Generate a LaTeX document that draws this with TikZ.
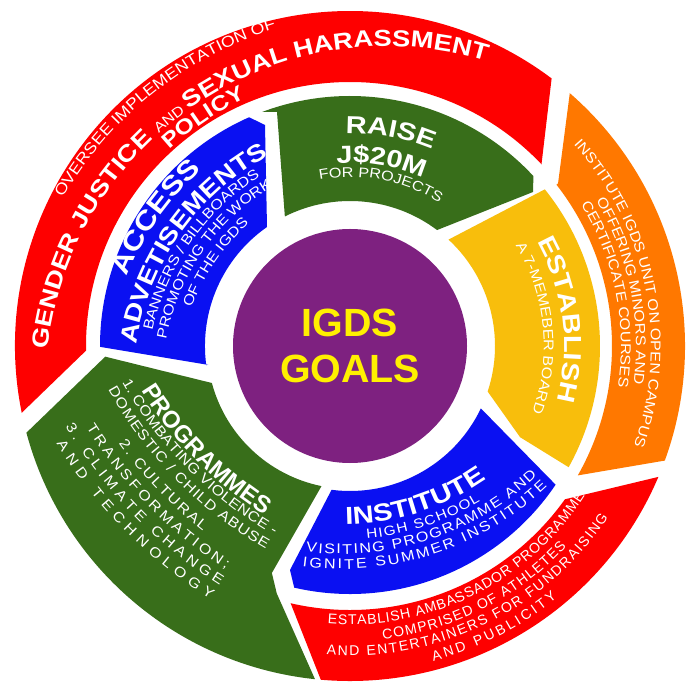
\documentclass[tikz,border=0pt]{standalone}
\usepackage{fontspec}
\usetikzlibrary{decorations.text}
\newfontfamily\plainfont{Liberation Sans}
\newfontfamily\ringfont[FakeStretch=1.15]{Liberation Sans}
\newfontfamily\bigfont[FakeStretch=1.18]{Liberation Sans}
\definecolor{segred}{HTML}{FE0000}
\definecolor{segblue}{HTML}{0A10F2}
\definecolor{seggreen}{HTML}{386E1A}
\definecolor{segorange}{HTML}{FF7800}
\definecolor{segyellow}{HTML}{F8BE0C}
\definecolor{goalpurple}{HTML}{7E2180}
\definecolor{goalyellow}{HTML}{FFF000}
\newcommand{\smalltxt}{\ringfont\fontsize{10}{12}\selectfont}
\newcommand{\tinytxt}{\ringfont\fontsize{9.5}{11}\selectfont}
\newcommand{\midtxt}{\ringfont\fontsize{11}{13}\selectfont}
\newcommand{\plaintxt}{\plainfont\fontsize{10}{12}\selectfont}
\newcommand{\bigtxt}{\bigfont\bfseries\fontsize{17.5}{20}\selectfont}
\newcommand{\advtxt}{\bigfont\bfseries\fontsize{17}{20}\selectfont}
\newcommand{\gendertxt}{\bigfont\bfseries\fontsize{16.5}{19}\selectfont}
\newcommand{\accesstxt}{\bigfont\bfseries\fontsize{19}{22}\selectfont}
\newcommand{\policytxt}{\bigfont\bfseries\fontsize{15}{18}\selectfont}
\newcommand{\progtxt}{\plainfont\bfseries\fontsize{17}{20}\selectfont}
\newcommand{\ringtext}[6][center]{\path[ringtext, decoration={text align={#1}, text={#6}}] ([shift={(#2)}]#4:#3) arc[start angle=#4, end angle=#5, radius=#3];}
\begin{document}
\begin{tikzpicture}[x=0.025cm, y=0.025cm,
  ringtext/.style={decorate, decoration={text along path, text color=white}}]
\path[use as bounding box, fill=white] (-350,-342) rectangle (344,346);
\fill[segred] (181:264) -- (191.5:335) arc[start angle=191.5, end angle=53, radius=335] -- (43.5:264) arc[start angle=43.5, end angle=181, radius=264] -- cycle;
\fill[segorange] (38:264) -- (49:335) arc[start angle=49, end angle=-20, radius=335] -- (-29.6:262) arc[start angle=-29.6, end angle=38, radius=262] -- cycle;
\fill[segred] (-35.5:264) -- (-23:335) arc[start angle=-23, end angle=-95, radius=335] -- (-103:264) arc[start angle=-103, end angle=-35.5, radius=264] -- cycle;
\fill[seggreen] (195:335) arc[start angle=195, end angle=264, radius=335] -- (253.5:258) -- (251:240) -- (258.5:143) arc[start angle=258.5, end angle=195, radius=143] -- (182.5:245) -- cycle;
\fill[segblue] (187.6:143) -- (180.2:250) arc[start angle=180.2, end angle=113.8, radius=250] -- (-85,221) -- (-83,119) arc[start angle=124.9, end angle=187.6, radius=145] -- cycle;
\fill[seggreen] (116.7:145) -- (-73,234) -- (110.5:250) arc[start angle=110.5, end angle=42.8, radius=250] -- (183,154) -- (53.1:145) arc[start angle=53.1, end angle=116.7, radius=145] -- cycle;
\fill[segyellow] (47.2:145) -- (38.8:250) arc[start angle=38.8, end angle=-29, radius=250] -- (-28.2:193) -- (-18.3:145) arc[start angle=-18.3, end angle=47.2, radius=145] -- cycle;
\fill[segblue] (-25.5:145) -- (-34:248) arc[start angle=-34, end angle=-103, radius=248] -- (-60,-224) -- (-97.3:145) arc[start angle=-97.3, end angle=-25.5, radius=145] -- cycle;
\fill[goalpurple] (0,0) circle[radius=117];
\node[font=\plainfont\bfseries\fontsize{28}{33}\selectfont, text=goalyellow, align=center] (goals) at (0,0) {IGDS\\GOALS};
\ringtext{37,-42}{376}{188.4}{68.4}{|\midtxt|OVERSEE IMPLEMENTATION OF}
\ringtext{37,-42}{341.7}{193.3}{53.3}{|\gendertxt|GENDER JUSTICE |\smalltxt|AND |\gendertxt|SEXUAL HARASSMENT}
\ringtext{37,-42}{322.5}{164.2}{84.2}{|\policytxt|POLICY}
\ringtext{40,-36}{283.5}{194.8}{94.8}{|\accesstxt|ACCESS}
\ringtext{40,-36}{256.5}{194.9}{94.9}{|\advtxt|ADVETISEMENTS}
\ringtext{40,-36}{243}{195.1}{95.1}{|\smalltxt|BANNERS / BILLBOARDS}
\ringtext{40,-36}{228}{195.1}{95.1}{|\smalltxt|PROMOTING THE WORK}
\ringtext{40,-36}{212}{195.6}{95.6}{|\smalltxt|OF THE IGDS}
\ringtext{0,0}{212.7}{129.2}{29.2}{|\bigtxt|RAISE}
\ringtext{0,0}{183.2}{130.3}{30.3}{|\bigtxt|J{\$}20M}
\ringtext{0,0}{169}{129.2}{29.2}{|\smalltxt|FOR PROJECTS}
\ringtext{0,0}{214.2}{57.2}{-42.8}{|\bigtxt|ESTABLISH}
\ringtext{0,0}{193.8}{55.7}{-44.3}{|\smalltxt|A 7-MEMEBER BOARD}
\ringtext{0,0}{301}{61.35}{-38.65}{|\smalltxt|INSTITUTE IGDS UNIT ON OPEN CAMPUS}
\ringtext{0,0}{286}{61.45}{-38.55}{|\smalltxt|OFFERING MINORS AND}
\ringtext{0,0}{271}{61.45}{-38.55}{|\smalltxt|CERTIFICATE COURSES}
\ringtext{-9,76}{254.8}{-122.1}{-22.1}{|\bigtxt|INSTITUTE}
\ringtext[fit to path]{-9,76}{269.75}{-84.5}{-58.9}{|\tinytxt|HIGH SCHOOL}
\ringtext[fit to path]{-9,76}{284}{-97.1}{-46.3}{|\smalltxt|VISITING PROGRAMME AND}
\ringtext[fit to path]{-9,76}{299}{-97.4}{-46.4}{|\smalltxt|IGNITE SUMMER INSTITUTE}
\ringtext[fit to path]{0,0}{278.6}{-94.6}{-32.5}{|\plaintxt|ESTABLISH AMBASSADOR PROGRAMME}
\ringtext[fit to path]{0,0}{295}{-83.6}{-42.8}{|\plaintxt|COMPRISED OF ATHLETES}
\ringtext[fit to path]{0,0}{309.8}{-94.35}{-33.55}{|\plaintxt|AND ENTERTAINERS FOR FUNDRAISING}
\ringtext[fit to path]{0,0}{326}{-75.2}{-50.55}{|\plaintxt|AND PUBLICITY}
\ringtext{123,160}{389.5}{194.6}{254.6}{|\progtxt|PROGRAMMES}
\ringtext[fit to path]{123,160}{402}{209.2}{240.36}{|\smalltxt|1. COMBATING VIOLENCE -}
\ringtext[fit to path]{123,160}{418}{209.2}{240.3}{|\smalltxt|DOMESTIC / CHILD ABUSE}
\ringtext[fit to path]{123,160}{438}{216}{231.95}{|\smalltxt|2. CULTURAL}
\ringtext[fit to path]{123,160}{456}{212}{237.2}{|\smalltxt|TRANSFORMATION;}
\ringtext[fit to path]{123,160}{473}{210.5}{237.65}{|\smalltxt|3. CLIMATE CHANGE}
\ringtext[fit to path]{123,160}{490}{211.75}{237.6}{|\smalltxt|AND TECHNOLOGY}
\end{tikzpicture}
\end{document}
